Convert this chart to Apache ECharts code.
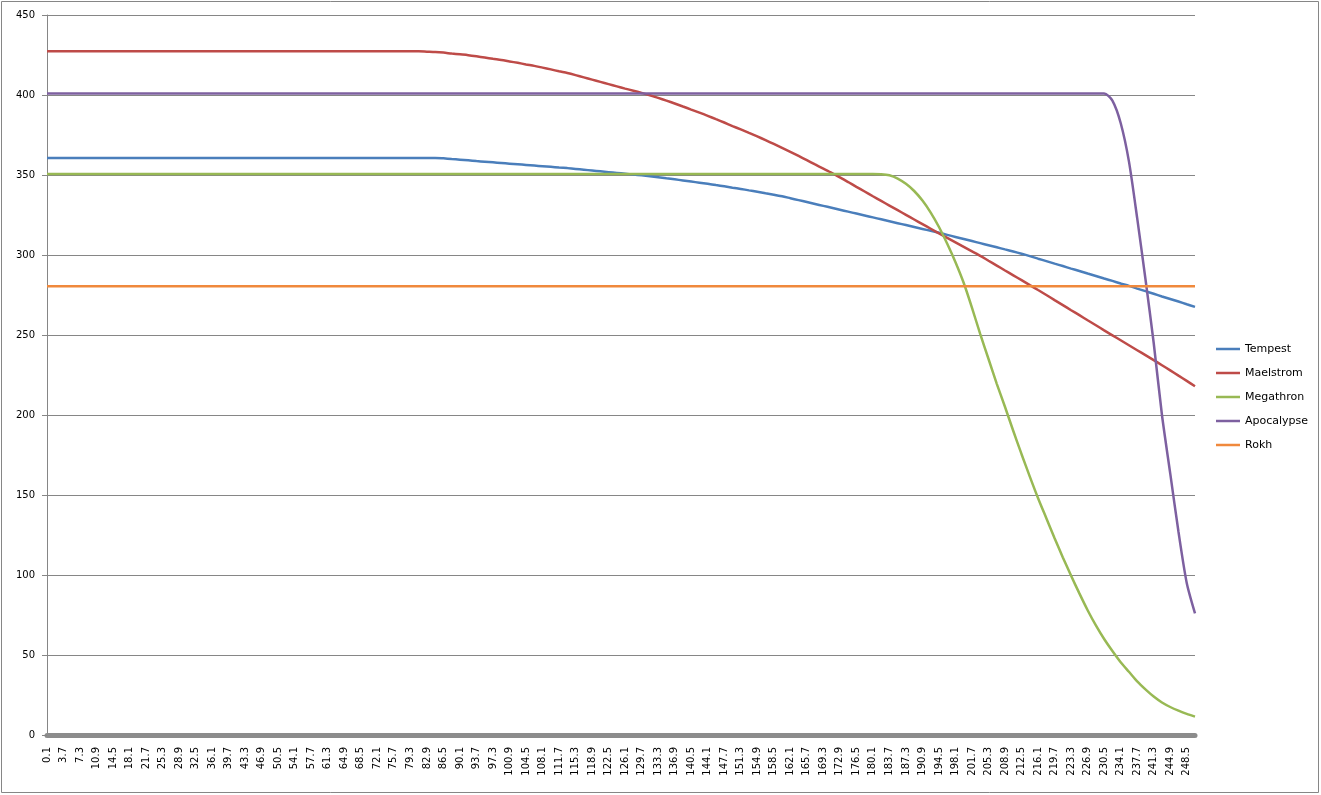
<!DOCTYPE html>
<html>
<head>
<meta charset="utf-8">
<title>Tempest / Maelstrom / Megathron / Apocalypse / Rokh</title>
<script src="https://cdn.jsdelivr.net/npm/echarts@6/dist/echarts.min.js"></script>
<style>
    html, body { margin: 0; padding: 0; background: #fff; }
    #chart { width: 1321px; height: 795px; }
</style>
</head>
<body>
<div id="chart"></div>
<script>
// x categories (step 1.8, every second one labelled)
const categories = [
    0.1, 1.9, 3.7, 5.5, 7.3, 9.1, 10.9, 12.7, 14.5, 16.3,
    18.1, 19.9, 21.7, 23.5, 25.3, 27.1, 28.9, 30.7, 32.5, 34.3,
    36.1, 37.9, 39.7, 41.5, 43.3, 45.1, 46.9, 48.7, 50.5, 52.3,
    54.1, 55.9, 57.7, 59.5, 61.3, 63.1, 64.9, 66.7, 68.5, 70.3,
    72.1, 73.9, 75.7, 77.5, 79.3, 81.1, 82.9, 84.7, 86.5, 88.3,
    90.1, 91.9, 93.7, 95.5, 97.3, 99.1, 100.9, 102.7, 104.5, 106.3,
    108.1, 109.9, 111.7, 113.5, 115.3, 117.1, 118.9, 120.7, 122.5, 124.3,
    126.1, 127.9, 129.7, 131.5, 133.3, 135.1, 136.9, 138.7, 140.5, 142.3,
    144.1, 145.9, 147.7, 149.5, 151.3, 153.1, 154.9, 156.7, 158.5, 160.3,
    162.1, 163.9, 165.7, 167.5, 169.3, 171.1, 172.9, 174.7, 176.5, 178.3,
    180.1, 181.9, 183.7, 185.5, 187.3, 189.1, 190.9, 192.7, 194.5, 196.3,
    198.1, 199.9, 201.7, 203.5, 205.3, 207.1, 208.9, 210.7, 212.5, 214.3,
    216.1, 217.9, 219.7, 221.5, 223.3, 225.1, 226.9, 228.7, 230.5, 232.3,
    234.1, 235.9, 237.7, 239.5, 241.3, 243.1, 244.9, 246.7, 248.5, 250.3
];

const tempest = [
    360.7, 360.7, 360.7, 360.7, 360.7, 360.7, 360.7, 360.7, 360.7, 360.7,
    360.7, 360.7, 360.7, 360.7, 360.7, 360.7, 360.7, 360.7, 360.7, 360.7,
    360.7, 360.7, 360.7, 360.7, 360.7, 360.7, 360.7, 360.7, 360.7, 360.7,
    360.7, 360.7, 360.7, 360.7, 360.7, 360.7, 360.7, 360.7, 360.7, 360.7,
    360.7, 360.7, 360.7, 360.7, 360.7, 360.7, 360.7, 360.7, 360.4, 360.0,
    359.6, 359.2, 358.7, 358.3, 357.9, 357.5, 357.1, 356.7, 356.3, 355.9,
    355.5, 355.1, 354.7, 354.3, 353.8, 353.3, 352.8, 352.3, 351.8, 351.3,
    350.8, 350.3, 349.8, 349.2, 348.6, 347.9, 347.3, 346.6, 345.9, 345.2,
    344.5, 343.7, 342.9, 342.1, 341.3, 340.4, 339.5, 338.6, 337.7, 336.7,
    335.5, 334.3, 333.1, 331.9, 330.7, 329.5, 328.3, 327.1, 325.9, 324.7,
    323.5, 322.3, 321.1, 319.9, 318.7, 317.5, 316.3, 315.1, 313.9, 312.6,
    311.3, 310.0, 308.7, 307.4, 306.1, 304.8, 303.5, 302.2, 300.8, 299.3,
    297.7, 296.2, 294.6, 293.1, 291.5, 290.0, 288.4, 286.9, 285.3, 283.8,
    282.2, 280.7, 279.0, 277.4, 275.8, 274.1, 272.5, 270.9, 269.2, 267.6
];

const maelstrom = [
    427.3, 427.3, 427.3, 427.3, 427.3, 427.3, 427.3, 427.3, 427.3, 427.3,
    427.3, 427.3, 427.3, 427.3, 427.3, 427.3, 427.3, 427.3, 427.3, 427.3,
    427.3, 427.3, 427.3, 427.3, 427.3, 427.3, 427.3, 427.3, 427.3, 427.3,
    427.3, 427.3, 427.3, 427.3, 427.3, 427.3, 427.3, 427.3, 427.3, 427.3,
    427.3, 427.3, 427.3, 427.3, 427.3, 427.3, 427.1, 426.9, 426.5, 425.9,
    425.4, 424.9, 424.2, 423.4, 422.6, 421.9, 421.0, 420.1, 419.1, 418.2,
    417.1, 416.0, 414.8, 413.7, 412.4, 411.0, 409.6, 408.2, 406.8, 405.4,
    404.0, 402.7, 401.3, 399.8, 398.2, 396.5, 394.7, 392.8, 390.9, 389.0,
    387.0, 384.9, 382.8, 380.6, 378.5, 376.3, 374.1, 371.8, 369.4, 366.9,
    364.4, 361.9, 359.3, 356.6, 354.0, 351.4, 348.5, 345.6, 342.6, 339.7,
    336.7, 333.8, 330.9, 328.0, 325.1, 322.2, 319.3, 316.4, 313.5, 310.7,
    307.9, 305.1, 302.3, 299.5, 296.4, 293.4, 290.3, 287.3, 284.3, 281.2,
    278.1, 275.0, 271.8, 268.7, 265.5, 262.4, 259.2, 256.1, 252.9, 249.8,
    246.7, 243.6, 240.5, 237.4, 234.3, 231.1, 227.9, 224.6, 221.3, 218.0
];

const megathron = [
    350.6, 350.6, 350.6, 350.6, 350.6, 350.6, 350.6, 350.6, 350.6, 350.6,
    350.6, 350.6, 350.6, 350.6, 350.6, 350.6, 350.6, 350.6, 350.6, 350.6,
    350.6, 350.6, 350.6, 350.6, 350.6, 350.6, 350.6, 350.6, 350.6, 350.6,
    350.6, 350.6, 350.6, 350.6, 350.6, 350.6, 350.6, 350.6, 350.6, 350.6,
    350.6, 350.6, 350.6, 350.6, 350.6, 350.6, 350.6, 350.6, 350.6, 350.6,
    350.6, 350.6, 350.6, 350.6, 350.6, 350.6, 350.6, 350.6, 350.6, 350.6,
    350.6, 350.6, 350.6, 350.6, 350.6, 350.6, 350.6, 350.6, 350.6, 350.6,
    350.6, 350.6, 350.6, 350.6, 350.6, 350.6, 350.6, 350.6, 350.6, 350.6,
    350.6, 350.6, 350.6, 350.6, 350.6, 350.6, 350.6, 350.6, 350.6, 350.6,
    350.6, 350.6, 350.6, 350.6, 350.6, 350.6, 350.6, 350.6, 350.6, 350.6,
    350.6, 350.5, 349.8, 347.8, 344.5, 340.0, 334.0, 326.5, 317.5, 307.0,
    295.5, 282.5, 267.0, 250.5, 235.0, 219.5, 205.0, 190.0, 175.5, 161.5,
    148.0, 135.5, 123.0, 111.0, 99.5, 88.5, 78.0, 68.5, 60.0, 52.5,
    45.5, 39.5, 33.5, 28.5, 24.0, 20.3, 17.5, 15.2, 13.2, 11.5
];

const apocalypse = [
    401, 401, 401, 401, 401, 401, 401, 401, 401, 401,
    401, 401, 401, 401, 401, 401, 401, 401, 401, 401,
    401, 401, 401, 401, 401, 401, 401, 401, 401, 401,
    401, 401, 401, 401, 401, 401, 401, 401, 401, 401,
    401, 401, 401, 401, 401, 401, 401, 401, 401, 401,
    401, 401, 401, 401, 401, 401, 401, 401, 401, 401,
    401, 401, 401, 401, 401, 401, 401, 401, 401, 401,
    401, 401, 401, 401, 401, 401, 401, 401, 401, 401,
    401, 401, 401, 401, 401, 401, 401, 401, 401, 401,
    401, 401, 401, 401, 401, 401, 401, 401, 401, 401,
    401, 401, 401, 401, 401, 401, 401, 401, 401, 401,
    401, 401, 401, 401, 401, 401, 401, 401, 401, 401,
    401, 401, 401, 401, 401, 401, 401, 401, 401, 396.5,
    382.5, 358.5, 323, 285, 245, 200, 163.5, 127, 95, 76
];

const rokh = [
    280.5, 280.5, 280.5, 280.5, 280.5, 280.5, 280.5, 280.5, 280.5, 280.5,
    280.5, 280.5, 280.5, 280.5, 280.5, 280.5, 280.5, 280.5, 280.5, 280.5,
    280.5, 280.5, 280.5, 280.5, 280.5, 280.5, 280.5, 280.5, 280.5, 280.5,
    280.5, 280.5, 280.5, 280.5, 280.5, 280.5, 280.5, 280.5, 280.5, 280.5,
    280.5, 280.5, 280.5, 280.5, 280.5, 280.5, 280.5, 280.5, 280.5, 280.5,
    280.5, 280.5, 280.5, 280.5, 280.5, 280.5, 280.5, 280.5, 280.5, 280.5,
    280.5, 280.5, 280.5, 280.5, 280.5, 280.5, 280.5, 280.5, 280.5, 280.5,
    280.5, 280.5, 280.5, 280.5, 280.5, 280.5, 280.5, 280.5, 280.5, 280.5,
    280.5, 280.5, 280.5, 280.5, 280.5, 280.5, 280.5, 280.5, 280.5, 280.5,
    280.5, 280.5, 280.5, 280.5, 280.5, 280.5, 280.5, 280.5, 280.5, 280.5,
    280.5, 280.5, 280.5, 280.5, 280.5, 280.5, 280.5, 280.5, 280.5, 280.5,
    280.5, 280.5, 280.5, 280.5, 280.5, 280.5, 280.5, 280.5, 280.5, 280.5,
    280.5, 280.5, 280.5, 280.5, 280.5, 280.5, 280.5, 280.5, 280.5, 280.5,
    280.5, 280.5, 280.5, 280.5, 280.5, 280.5, 280.5, 280.5, 280.5, 280.5
];

const seriesNames = ['Tempest', 'Maelstrom', 'Megathron', 'Apocalypse', 'Rokh'];
const seriesColors = ['#4A7EBB', '#BE4B48', '#98B954', '#7D60A0', '#F0893C'];
const seriesValues = [tempest, maelstrom, megathron, apocalypse, rokh];

const font = 'DejaVu Sans';
const gridColor = '#868686';

let chart = echarts.init(document.getElementById('chart'));
chart.setOption({
    animation: false,
    backgroundColor: '#fff',
    graphic: [
        {
            type: 'rect',
            silent: true,
            shape: { x: 1.5, y: 1.5, width: 1317, height: 791 },
            style: { fill: null, stroke: gridColor, lineWidth: 1 }
        }
    ],
    grid: {
        left: 47,
        right: 126,
        top: 15,
        bottom: 60,
        containLabel: false,
        outerBoundsMode: 'none'
    },
    legend: {
        orient: 'vertical',
        left: 1216,
        top: 342,
        padding: 0,
        icon: 'rect',
        itemWidth: 24,
        itemHeight: 2.5,
        itemGap: 10,
        textStyle: {
            fontFamily: font,
            fontSize: 11,
            lineHeight: 14,
            color: '#000'
        },
        data: seriesNames
    },
    xAxis: {
        type: 'category',
        data: categories,
        boundaryGap: false,
        offset: 2,
        axisLine: { lineStyle: { color: '#8c8c8c', width: 5 } },
        axisTick: { show: false },
        splitLine: { show: false },
        axisLabel: {
            interval: 1,
            rotate: 90,
            margin: 10,
            fontFamily: font,
            fontSize: 10,
            color: '#000'
        }
    },
    yAxis: {
        type: 'value',
        min: 0,
        max: 450,
        interval: 50,
        axisLine: { show: true, lineStyle: { color: gridColor, width: 1 } },
        axisTick: { show: true, length: 5, lineStyle: { color: gridColor } },
        splitLine: { lineStyle: { color: gridColor, width: 1 } },
        axisLabel: {
            margin: 12,
            fontFamily: font,
            fontSize: 10,
            color: '#000'
        }
    },
    series: seriesNames.map((name, i) => ({
        name: name,
        type: 'line',
        data: seriesValues[i],
        showSymbol: false,
        symbol: 'none',
        smooth: 0.25,
        color: seriesColors[i],
        lineStyle: { width: 2.5, color: seriesColors[i] },
        itemStyle: { color: seriesColors[i] }
    }))
});
</script>
</body>
</html>
